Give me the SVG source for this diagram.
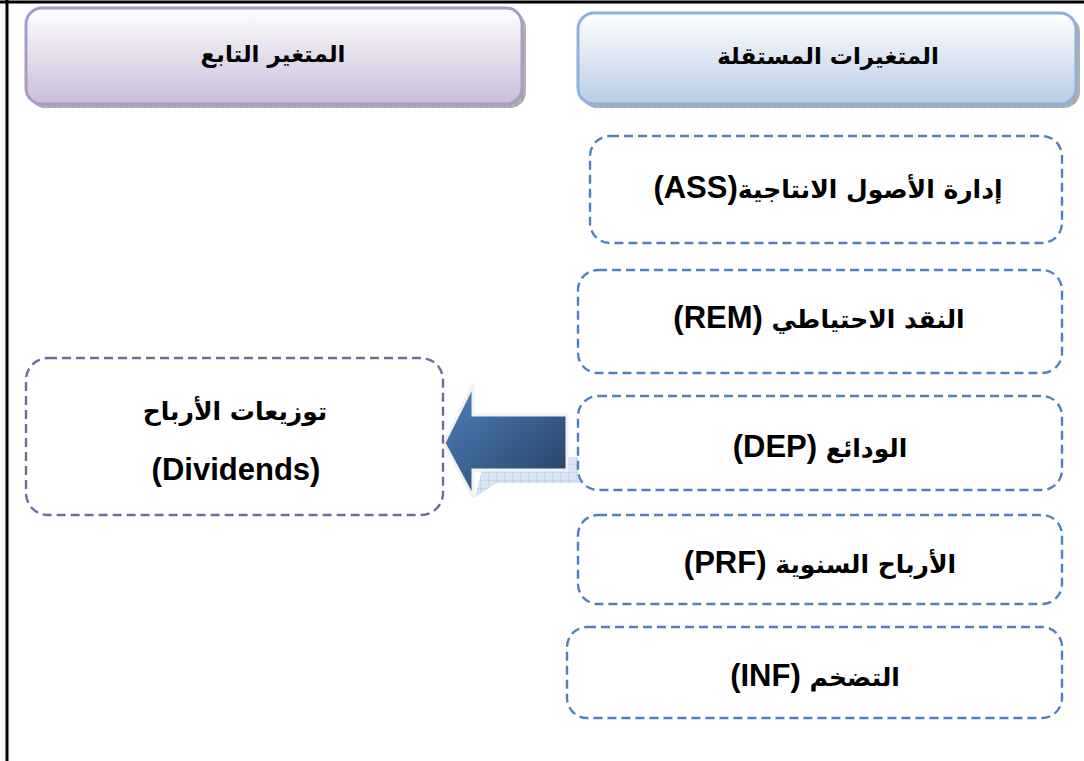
<svg xmlns="http://www.w3.org/2000/svg" width="1084" height="761" viewBox="0 0 1084 761">
<defs>
<linearGradient id="gPurple" x1="0" y1="0" x2="0" y2="1">
<stop offset="0" stop-color="#ffffff"/><stop offset="1" stop-color="#c9bdd9"/>
</linearGradient>
<linearGradient id="gBlue" x1="0" y1="0" x2="0" y2="1">
<stop offset="0" stop-color="#ffffff"/><stop offset="1" stop-color="#b8cce4"/>
</linearGradient>
<linearGradient id="gArrow" x1="0" y1="0" x2="1" y2="1">
<stop offset="0" stop-color="#4f81bd"/><stop offset="1" stop-color="#243f60"/>
</linearGradient>
<pattern id="grid" width="8" height="8" patternUnits="userSpaceOnUse">
<rect width="8" height="8" fill="#dbe5f1"/>
<path d="M0 0H8M0 0V8" stroke="#a9c1e0" stroke-width="0.8"/>
</pattern>
<pattern id="shade" width="6" height="4" patternUnits="userSpaceOnUse">
<rect width="6" height="4" fill="#b0b0b0"/>
<path d="M0 0V4" stroke="#888" stroke-width="1"/>
</pattern>
</defs>
<style>
.t{font-family:"DejaVu Sans","Liberation Sans",sans-serif;font-weight:bold;fill:#000;text-anchor:middle;direction:rtl}
.h{font-size:23px}
.b{font-size:25px}
.l{font-family:"Liberation Sans",Arial,sans-serif;font-size:31px}
.dashB{fill:#fff;stroke:#4f81bd;stroke-width:2.4;stroke-dasharray:9 5}
.dashP{fill:#fff;stroke:#8064a2;stroke-width:2.4;stroke-dasharray:9 5}
</style>
<rect width="1084" height="761" fill="#fff"/>
<g id="frame">
<line x1="7" y1="0" x2="7" y2="761" stroke="#000" stroke-width="3"/>
<line x1="0" y1="2" x2="1084" y2="2" stroke="#000" stroke-width="3"/>
</g>
<g id="header-dependent">
<rect x="29" y="12" width="497" height="96" rx="16" fill="url(#shade)"/>
<rect x="26" y="8" width="496" height="96" rx="16" fill="url(#gPurple)" stroke="#a99bc6" stroke-width="3"/>
<text class="t h" x="273" y="62">المتغير التابع</text>
</g>
<g id="header-independent">
<rect x="581" y="16" width="499" height="92" rx="16" fill="url(#shade)"/>
<rect x="578" y="13" width="498" height="91" rx="16" fill="url(#gBlue)" stroke="#8eb0da" stroke-width="3"/>
<text class="t h" x="828" y="64">المتغيرات المستقلة</text>
</g>
<g id="connectors">
<polygon points="475,497 497,483 593,483 638,457 560,457 482,470" fill="url(#grid)"/>
<polygon points="444,443 473,385 473,415 567,415 567,470 473,470 473,497" fill="url(#gArrow)" stroke="#f2f2f2" stroke-width="3" stroke-linejoin="miter"/>
</g>
<g id="dividends">
<rect x="26" y="358" width="417" height="157" rx="22" class="dashP"/>
<text class="t b" x="235" y="420">توزيعات الأرباح</text>
<text class="t b l" x="236" y="480">(Dividends)</text>
</g>
<g id="ass">
<rect x="590" y="136" width="472" height="107" rx="20" class="dashB"/>
<text class="t b" x="828" y="198">إدارة الأصول الانتاجية<tspan class="l">(ASS)</tspan></text>
</g>
<g id="rem">
<rect x="578" y="270" width="484" height="103" rx="20" class="dashB"/>
<text class="t b" x="819" y="328">النقد الاحتياطي <tspan class="l">(REM)</tspan></text>
</g>
<g id="dep">
<rect x="578" y="396" width="484" height="94" rx="20" class="dashB"/>
<text class="t b" x="820" y="457">الودائع <tspan class="l">(DEP)</tspan></text>
</g>
<g id="prf">
<rect x="578" y="515" width="484" height="89" rx="20" class="dashB"/>
<text class="t b" x="820" y="573">الأرباح السنوية <tspan class="l">(PRF)</tspan></text>
</g>
<g id="inf">
<rect x="567" y="627" width="495" height="91" rx="20" class="dashB"/>
<text class="t b" x="815" y="686">التضخم <tspan class="l">(INF)</tspan></text>
</g>
</svg>
